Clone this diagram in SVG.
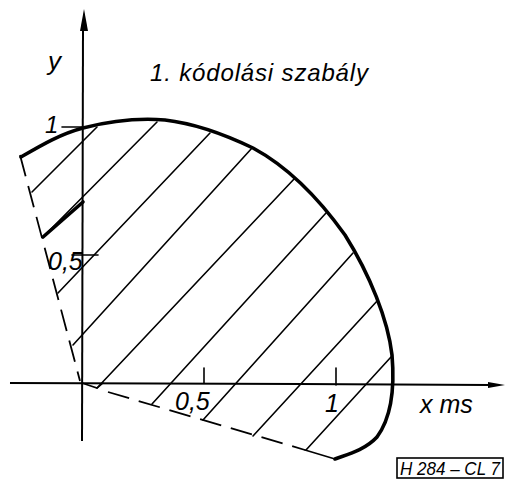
<svg xmlns="http://www.w3.org/2000/svg" width="506" height="481" viewBox="0 0 506 481">
<style>
.ax{stroke:#000;stroke-width:2;fill:none}
.thin{stroke:#000;stroke-width:1.6;fill:none;stroke-linecap:round}
.thick{stroke:#000;stroke-width:3.6;fill:none;stroke-linecap:round;stroke-linejoin:round}
.dash{stroke:#000;stroke-width:1.8;fill:none;stroke-dasharray:22 10}
.t{font-family:"Liberation Sans",Arial,sans-serif;font-style:italic;fill:#000}
</style>
<rect width="506" height="481" fill="#fff"/>
<g id="axes">
<line class="ax" x1="83" y1="28" x2="82" y2="441"/>
<polygon points="84,9 80,31 88,31" fill="#000"/>
<polyline class="ax" points="10,383 300,384 490,385"/>
<polygon points="505,385 488,382 488,388" fill="#000"/>
<line class="thin" x1="62" y1="127" x2="83" y2="127"/>
<line class="thin" x1="72" y1="255" x2="98" y2="255"/>
<line class="thin" x1="204" y1="368" x2="204" y2="383"/>
<line class="thin" x1="336" y1="368" x2="336" y2="385"/>
</g>
<g id="region">
<path class="thick" d="M21,157 C40,146 60,134 83,128 C110,121 140,118 165,120 C200,124 230,137 253,148 C290,168 320,200 345,235 C370,275 388,320 392,355 C395,390 391,418 377,437 C364,451 345,455 335,459"/>
<line class="thick" x1="43" y1="237" x2="83" y2="202"/>
<line class="dash" x1="20" y1="155" x2="80" y2="381"/>
<polyline class="thin" points="82,383 97,388 103,383"/>
<line class="dash" x1="108" y1="392" x2="305" y2="450"/>
<line class="thin" x1="305" y1="450" x2="335" y2="459"/>
</g>
<g id="hatch">
<line class="thin" x1="32" y1="192" x2="97" y2="127"/>
<line class="thin" x1="43" y1="237" x2="157" y2="122"/>
<line class="thin" x1="58" y1="293" x2="210" y2="133"/>
<line class="thin" x1="73" y1="345" x2="252" y2="148"/>
<line class="thin" x1="97" y1="388" x2="295" y2="178"/>
<line class="thin" x1="152" y1="404" x2="326" y2="213"/>
<line class="thin" x1="203" y1="420" x2="353" y2="253"/>
<line class="thin" x1="253" y1="436" x2="378" y2="300"/>
<line class="thin" x1="306" y1="450" x2="391" y2="357"/>
</g>
<g id="labels">
<text class="t" x="150" y="81" font-size="24" textLength="218" lengthAdjust="spacing">1. kódolási szabály</text>
<text class="t" x="48" y="70" font-size="26">y</text>
<text class="t" x="45" y="133" font-size="24">1</text>
<text class="t" x="48" y="270" font-size="25">0,5</text>
<text class="t" x="175" y="410" font-size="25">0,5</text>
<text class="t" x="325" y="412" font-size="25">1</text>
<text class="t" x="420" y="413" font-size="25">x ms</text>
</g>
<g id="stamp">
<rect x="397" y="458" width="106" height="20" fill="none" stroke="#000" stroke-width="1.6"/>
<text class="t" x="400" y="475" font-size="18" textLength="100" lengthAdjust="spacingAndGlyphs">H 284 – CL 7</text>
</g>
</svg>
